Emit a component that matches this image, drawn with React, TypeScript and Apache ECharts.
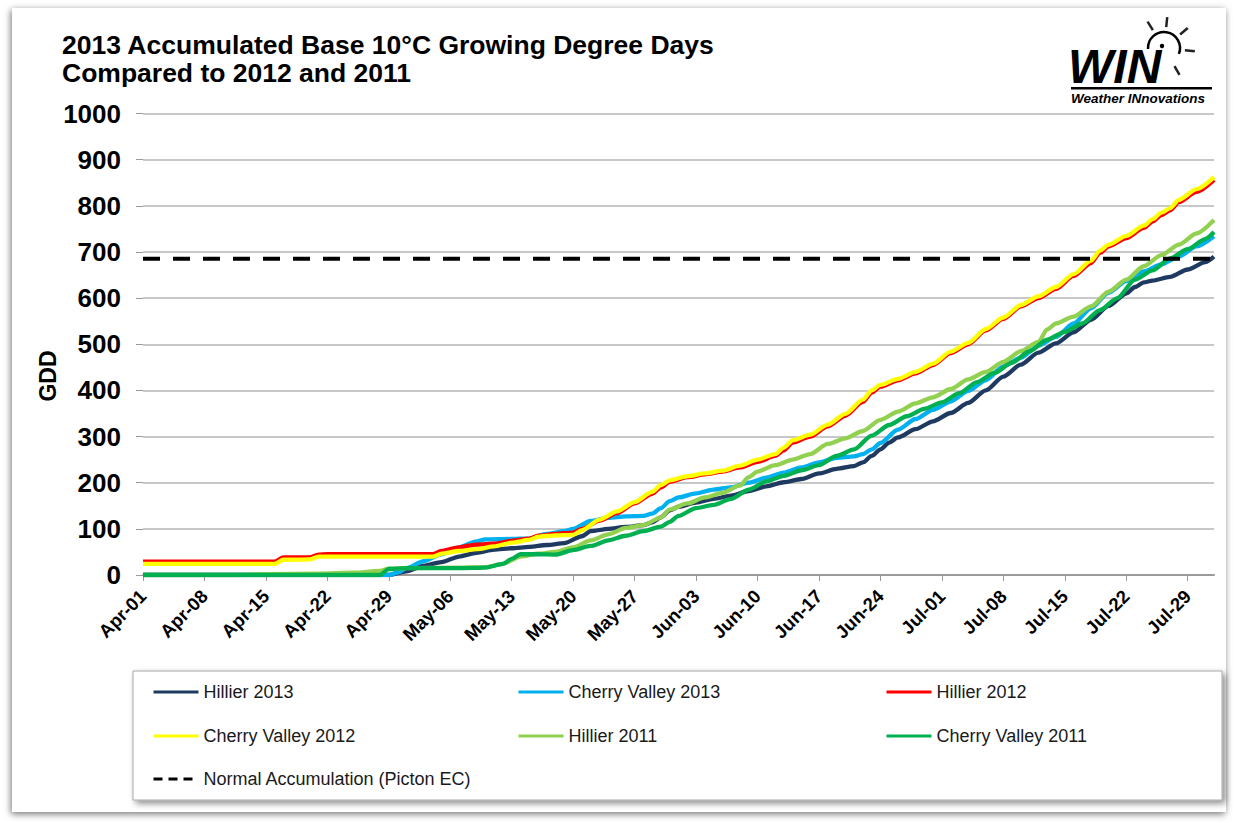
import React, { useEffect, useRef } from "react";
import * as echarts from "echarts";

// Tick labels every 7 days starting Apr-01 (day index 0 = Apr-01, 122 = Aug-01)
const dayTickLabels = [
  "Apr-01", "Apr-08", "Apr-15", "Apr-22", "Apr-29", "May-06", "May-13", "May-20", "May-27",
  "Jun-03", "Jun-10", "Jun-17", "Jun-24", "Jul-01", "Jul-08", "Jul-15", "Jul-22", "Jul-29",
];

const seriesNames = [
  "Hillier 2013",
  "Cherry Valley 2013",
  "Hillier 2012",
  "Cherry Valley 2012",
  "Hillier 2011",
  "Cherry Valley 2011",
  "Normal Accumulation (Picton EC)",
];

// [day index, GDD]
const hillier2013 = [
  [0, 0], [28, 0], [30, 8], [32, 20], [34, 28], [36, 40], [38, 48], [40, 55], [42, 58], [44, 61],
  [46, 65], [48, 69], [50, 84], [51, 95], [53, 100], [55, 104], [57, 108], [58, 114], [59, 125],
  [60, 140], [61, 148], [63, 157], [65, 165], [67, 172], [69, 182], [71, 192], [73, 201], [75, 208],
  [77, 220], [79, 230], [81, 236], [82, 244], [83, 258], [84, 272], [85, 287], [86, 298], [88, 316],
  [90, 333], [92, 351], [94, 373], [96, 400], [98, 430], [100, 456], [102, 482], [104, 502],
  [106, 526], [108, 553], [110, 583], [112, 610], [113, 624], [114, 634], [115, 638], [117, 646],
  [119, 662], [121, 678], [122, 690],
];

const cherryValley2013 = [
  [0, 0], [28, 0], [29, 5], [30, 15], [32, 30], [34, 45], [36, 60], [38, 73], [39, 77], [42, 78],
  [44, 79], [46, 89], [48, 95], [49, 100], [51, 117], [53, 124], [55, 127], [57, 128], [58, 133],
  [59, 145], [60, 160], [61, 168], [63, 177], [65, 185], [67, 190], [69, 200], [71, 211], [73, 222],
  [75, 233], [77, 244], [79, 254], [81, 257], [82, 262], [83, 272], [84, 286], [86, 315], [88, 338],
  [90, 358], [92, 376], [94, 399], [96, 422], [98, 452], [100, 471], [102, 497], [104, 516],
  [106, 545], [108, 578], [110, 612], [112, 637], [114, 658], [116, 673], [118, 690], [120, 712],
  [122, 734],
];

const hillier2012 = [
  [0, 29], [15, 29], [16, 38], [19, 38], [20, 44], [21, 45], [33, 45], [34, 52], [36, 60], [38, 66],
  [40, 68], [42, 74], [44, 79], [45, 85], [47, 89], [49, 92], [50, 100], [52, 118], [54, 134],
  [56, 155], [58, 176], [59, 190], [60, 202], [62, 212], [64, 218], [66, 224], [68, 233], [70, 245],
  [72, 258], [73, 270], [74, 287], [76, 300], [78, 322], [80, 345], [82, 375], [83, 395], [84, 408],
  [86, 422], [88, 437], [90, 455], [92, 481], [94, 500], [96, 530], [98, 555], [100, 582],
  [102, 600], [104, 620], [106, 648], [108, 676], [109, 698], [110, 712], [112, 730], [114, 752],
  [115, 766], [116, 780], [117, 790], [118, 808], [120, 830], [122, 856],
];

const cherryValley2012 = [
  [0, 24], [15, 24], [16, 33], [19, 34], [20, 40], [33, 40], [34, 46], [36, 52], [38, 56], [40, 62],
  [42, 70], [44, 76], [45, 83], [47, 86], [49, 87], [50, 97], [52, 120], [54, 138], [56, 158],
  [58, 180], [59, 195], [60, 205], [62, 214], [64, 220], [66, 226], [68, 237], [70, 250], [72, 262],
  [73, 276], [74, 292], [76, 304], [78, 326], [80, 349], [82, 380], [83, 400], [84, 412], [86, 425],
  [88, 440], [90, 458], [92, 484], [94, 503], [96, 533], [98, 558], [100, 585], [102, 604],
  [104, 624], [106, 652], [108, 681], [109, 703], [110, 716], [112, 735], [114, 757], [115, 771],
  [116, 785], [117, 795], [118, 813], [120, 836], [122, 862],
];

const hillier2011 = [
  [0, 0], [10, 0], [14, 2], [20, 3], [24, 5], [27, 9], [28, 14], [30, 15], [36, 16], [39, 17],
  [41, 24], [43, 40], [45, 46], [47, 50], [49, 60], [51, 75], [53, 88], [55, 102], [57, 108],
  [59, 125], [60, 142], [62, 155], [64, 168], [66, 178], [68, 194], [69, 212], [70, 224], [72, 238],
  [74, 250], [76, 262], [78, 284], [80, 296], [82, 312], [84, 336], [86, 354], [88, 372], [90, 385],
  [92, 403], [94, 424], [96, 440], [98, 462], [100, 485], [102, 505], [103, 532], [104, 545],
  [106, 560], [108, 582], [110, 614], [112, 640], [114, 669], [116, 693], [118, 716], [120, 740],
  [122, 769],
];

const cherryValley2011 = [
  [0, 0], [27, 0], [28, 13], [30, 15], [36, 15], [39, 16], [41, 24], [42, 35], [43, 45], [45, 45],
  [47, 44], [49, 54], [51, 63], [53, 75], [55, 85], [57, 95], [59, 105], [60, 115], [61, 128],
  [63, 145], [65, 152], [67, 165], [69, 185], [71, 203], [73, 215], [75, 227], [77, 238], [79, 258],
  [81, 272], [83, 302], [85, 325], [87, 344], [89, 360], [91, 374], [93, 394], [95, 418], [97, 438],
  [99, 460], [101, 485], [103, 510], [105, 527], [107, 545], [109, 574], [111, 600], [113, 640],
  [115, 660], [117, 686], [119, 706], [121, 728], [122, 743],
];

const normalAccumulation = [
  [0, 685], [122, 685],
];

const seriesData = [
  hillier2013, cherryValley2013, hillier2012, cherryValley2012, hillier2011, cherryValley2011, normalAccumulation,
];

const seriesColors = ["#1F3A60", "#00B0F0", "#FF0000", "#FFFF00", "#92D050", "#00B050", "#000000"];

const FONT = '"Liberation Sans", Arial, Helvetica, sans-serif';

const legendPos = [
  { left: 152, top: 682 },
  { left: 517, top: 682 },
  { left: 885, top: 682 },
  { left: 152, top: 726 },
  { left: 517, top: 726 },
  { left: 885, top: 726 },
  { left: 152, top: 769 },
];

function buildSun() {
  const cx = 1164;
  const cy = 48;
  const rays = [-122, -84, -40, 6, 60];
  const items: any[] = [
    {
      type: "arc",
      shape: { cx, cy, r: 16, startAngle: Math.PI * 0.98, endAngle: Math.PI * 2.12, clockwise: true },
      style: { stroke: "#000", lineWidth: 2.5, fill: null },
      z: 10,
    },
    { type: "circle", shape: { cx: cx - 2, cy: cy - 2, r: 2.2 }, style: { fill: "#000" }, z: 10 },
  ];
  rays.forEach((deg) => {
    const a = (deg * Math.PI) / 180;
    items.push({
      type: "line",
      shape: {
        x1: cx + Math.cos(a) * 21,
        y1: cy + Math.sin(a) * 21,
        x2: cx + Math.cos(a) * 31,
        y2: cy + Math.sin(a) * 31,
      },
      style: { stroke: "#222", lineWidth: 2.5 },
      z: 10,
    });
  });
  return items;
}

export default function App() {
  const ref = useRef<HTMLDivElement>(null);

  useEffect(() => {
    if (!ref.current) return;
    const chart = echarts.init(ref.current, null, { renderer: "svg" });

    const series = seriesNames.map((name, i) => {
      const isNormal = i === 6;
      return {
        name,
        type: "line",
        data: seriesData[i],
        symbol: "none",
        smooth: isNormal ? false : 0.25,
        smoothMonotone: "x",
        color: seriesColors[i],
        lineStyle: isNormal
          ? { color: "#000", width: 4, type: [17, 13] }
          : { color: seriesColors[i], width: 4.3 },
        z: 2 + i,
      };
    });

    const legends = seriesNames.map((name, i) => ({
      data: [name],
      left: legendPos[i].left,
      top: legendPos[i].top,
      padding: 0,
      orient: "horizontal",
      itemWidth: 45,
      itemHeight: 20,
      selectedMode: false,
      textStyle: { fontFamily: FONT, fontSize: 18, color: "#1a1a1a", lineHeight: 20 },
      itemStyle: { opacity: 0, borderWidth: 0 },
      lineStyle: i === 6 ? { width: 3, type: [9, 6], color: "#000" } : { width: 3 },
      z: 5,
    }));

    chart.setOption({
      animation: false,
      backgroundColor: "#ffffff",
      textStyle: { fontFamily: FONT },
      title: {
        text: "2013 Accumulated Base 10°C Growing Degree Days\nCompared to 2012 and 2011",
        left: 62,
        top: 31,
        padding: 0,
        textStyle: { fontFamily: FONT, fontSize: 26.5, fontWeight: "bold", color: "#000", lineHeight: 28 },
      },
      legend: legends,
      grid: { left: 143, right: 21, top: 113.5, bottom: 248, containLabel: false },
      xAxis: {
        type: "value",
        min: 0,
        max: 122,
        interval: 7,
        axisLine: { show: true, lineStyle: { color: "#9a9a9a", width: 2 } },
        axisTick: { show: true, length: 6, lineStyle: { color: "#9a9a9a", width: 1 } },
        splitLine: { show: false },
        axisLabel: {
          rotate: 45,
          margin: 18,
          showMaxLabel: false,
          fontFamily: FONT,
          fontSize: 18.5,
          fontWeight: "bold",
          color: "#000",
          formatter: (v: number) => (v % 7 === 0 && dayTickLabels[v / 7] ? dayTickLabels[v / 7] : ""),
        },
      },
      yAxis: {
        type: "value",
        min: 0,
        max: 1000,
        interval: 100,
        axisLine: {
          show: true,
          lineStyle: { color: "#9a9a9a", width: 3, shadowColor: "rgba(0,0,0,0.35)", shadowBlur: 3, shadowOffsetX: -1 },
        },
        axisTick: { show: true, length: 7, lineStyle: { color: "#9a9a9a", width: 1 } },
        splitLine: { show: true, lineStyle: { color: "#c8c8c8", width: 2 } },
        axisLabel: {
          margin: 22,
          fontFamily: FONT,
          fontSize: 26,
          fontWeight: "bold",
          color: "#000",
          formatter: (v: number) => String(v),
        },
      },
      graphic: [
        {
          type: "rect",
          shape: { x: 12, y: 8, width: 1214, height: 804 },
          style: { fill: "#ffffff", shadowColor: "rgba(0,0,0,0.55)", shadowBlur: 7, shadowOffsetX: -1, shadowOffsetY: 2 },
          z: -10,
          silent: true,
        },
        {
          type: "rect",
          shape: { x: 133, y: 671, width: 1089, height: 129 },
          style: {
            fill: "#ffffff",
            stroke: "#a8a8a8",
            lineWidth: 1,
            shadowColor: "rgba(0,0,0,0.45)",
            shadowBlur: 6,
            shadowOffsetX: 3,
            shadowOffsetY: 3,
          },
          z: 1,
          silent: true,
        },
        {
          type: "text",
          x: 48,
          y: 376,
          rotation: Math.PI / 2,
          style: {
            text: "GDD",
            x: 0,
            y: 0,
            fill: "#000",
            font: `bold 23px ${FONT}`,
            align: "center",
            verticalAlign: "middle",
            textAlign: "center",
            textVerticalAlign: "middle",
          },
          z: 10,
        },
        {
          type: "text",
          style: {
            text: "WIN",
            x: 1068,
            y: 66,
            fill: "#000",
            font: `italic 900 48px ${FONT}`,
            lineHeight: 32,
            textVerticalAlign: "middle",
            verticalAlign: "middle",
          },
          z: 10,
        },
        ...buildSun(),
        {
          type: "rect",
          shape: { x: 1071, y: 87, width: 141, height: 2.5 },
          style: { fill: "#000" },
          z: 10,
        },
        {
          type: "text",
          style: {
            text: "Weather INnovations",
            x: 1071,
            y: 98,
            fill: "#000",
            font: `italic bold 13.5px ${FONT}`,
            lineHeight: 14,
            textVerticalAlign: "middle",
            verticalAlign: "middle",
          },
          z: 10,
        },
      ],
      series,
    });

    return () => chart.dispose();
  }, []);

  return (
    <div
      ref={ref}
      style={{ position: "absolute", left: 0, top: 0, width: 1235, height: 823 }}
    />
  );
}
